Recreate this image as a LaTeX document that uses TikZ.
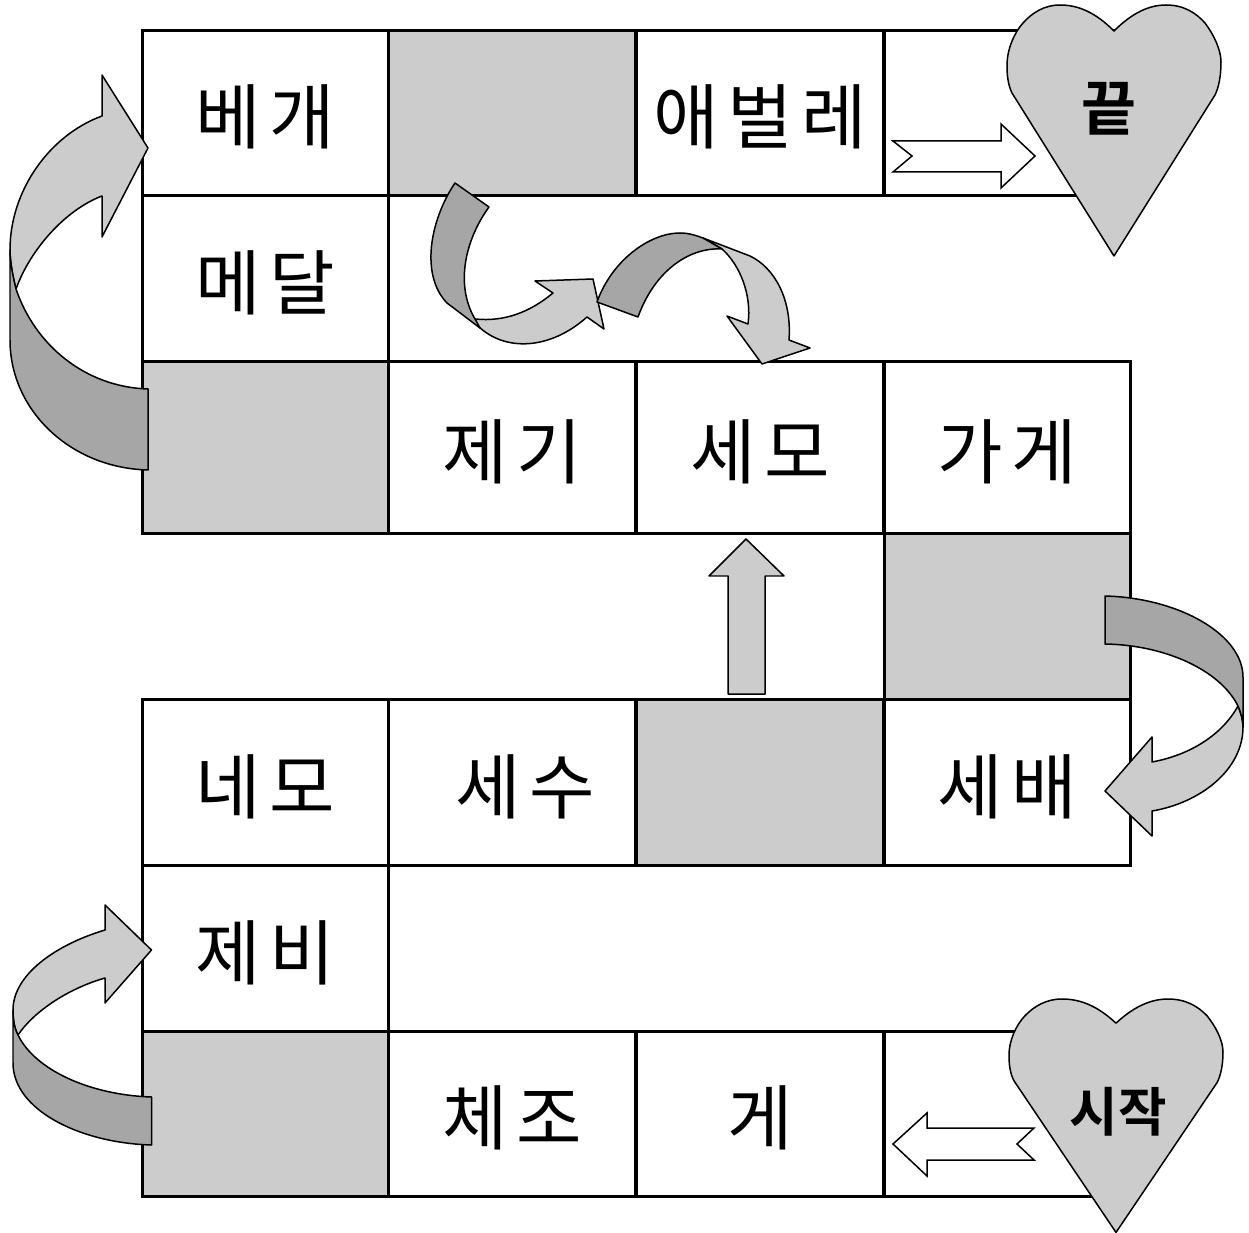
\documentclass[tikz,border=0pt]{standalone}
\usepackage{fontspec}
\setmainfont[LetterSpace=12]{Noto Sans CJK KR}
\newfontfamily\heartfont[BoldFont={Noto Sans CJK KR Bold}]{Noto Sans CJK KR}
\usetikzlibrary{positioning}

\definecolor{lightgrey}{gray}{0.8}
\definecolor{darkgrey}{gray}{0.65}

\tikzset{
  cell/.style = {draw, line width=0.06cm, minimum width=4.94cm, minimum height=3.32cm,
    inner sep=0pt, text height=1.6cm, text depth=0.36cm, font=\fontsize{40.5}{40.5}\selectfont},
  greycell/.style = {cell, fill=lightgrey},
  ribbonlight/.style = {draw, fill=lightgrey, line width=0.03cm, line join=round},
  ribbondark/.style = {draw, fill=darkgrey, line width=0.03cm, line join=round},
  hollowarrow/.style = {draw, fill=white, line width=0.03cm, line join=miter},
  pics/heartshape/.style = {code={
    \draw[ribbonlight] (0,26) .. controls (18,8) and (35,0) .. (52,0)
      .. controls (70,0) and (82,8) .. (91,18)
      .. controls (100,30) and (107,45) .. (107,57)
      .. controls (107,70) and (105,82) .. (101,90) -- (0,251) -- (-102,88)
      .. controls (-106,80) and (-107,70) .. (-107,60)
      .. controls (-107,45) and (-100,28) .. (-91,18)
      .. controls (-82,8) and (-70,0) .. (-54,0)
      .. controls (-35,0) and (-18,8) .. (0,26) -- cycle;
  }}
}

\begin{document}
\begin{tikzpicture}[x=0.02cm, y=-0.02cm]
    \useasboundingbox (0,0) rectangle (1249,1233);

    % top rows
    \node[cell, minimum width=4.92cm, minimum height=3.3cm] (bega) at (265.3,112.8) {베개};
    \node[greycell, minimum height=3.3cm] (gapa) at (512,112.8) {};
    \node[cell, minimum height=3.3cm] (aebeolle) at (760,112.8) {애벌레};
    \node[cell, minimum height=3.3cm] (goal) at (1007.5,112.8) {};
    \node[cell, minimum width=4.92cm] (medal) at (265.3,278.2) {메달};
    \node[greycell, minimum width=4.92cm, minimum height=3.44cm] (gapb) at (265.3,447.4) {};
    \node[cell, minimum height=3.44cm] (jegi) at (512,447.4) {제기};
    \node[cell, minimum height=3.44cm] (semoa) at (760,447.4) {세모};
    \node[cell, minimum height=3.44cm] (gage) at (1007.5,447.4) {가게};
    \node[greycell] (gapc) at (1007.5,616.2) {};

    % bottom rows
    \node[cell, minimum width=4.92cm] (nemo) at (265.3,782.3) {네모};
    \node[cell] (sesu) at (512,782.3) {\hspace*{0.52cm}세수};
    \node[greycell] (gapd) at (760,782.3) {};
    \node[cell] (sebae) at (1007.5,782.3) {세배};
    \node[cell, minimum width=4.92cm] (jebi) at (265.3,948.3) {제비};
    \node[greycell, minimum width=4.92cm, minimum height=3.3cm] (gape) at (265.3,1113.8) {};
    \node[cell, minimum height=3.3cm] (chejo) at (512,1113.8) {체조};
    \node[cell, minimum height=3.3cm] (ge) at (760,1113.8) {게};
    \node[cell, minimum height=3.3cm] (start) at (1007.5,1113.8) {};

    % left ribbon, top
    \draw[ribbonlight] (148,148) -- (102,75) -- (102,116) .. controls (50,135) and (10,190) .. (10,250)
      .. controls (10,262) and (13,277) .. (16,289) .. controls (30,250) and (65,210) .. (102,196)
      -- (102,237) -- cycle;
    \draw[ribbondark] (10,250) -- (10,340) .. controls (10,410) and (70,468) .. (148,470) -- (148,389)
      .. controls (85,387) and (35,345) .. (16,289) .. controls (13,277) and (10,262) .. (10,250) -- cycle;

    % left ribbon, bottom
    \draw[ribbonlight] (151.5,950) -- (105,905) -- (105,930) .. controls (55,945) and (13,975) .. (13,1010)
      .. controls (13,1018) and (14,1028) .. (18,1035) .. controls (35,1010) and (70,988) .. (105,978)
      -- (105,1003) -- cycle;
    \draw[ribbondark] (13,1010) -- (13,1063) .. controls (13,1110) and (80,1143) .. (151.5,1145) -- (151.5,1097)
      .. controls (90,1095) and (35,1070) .. (18,1035) .. controls (14,1028) and (13,1018) .. (13,1010) -- cycle;

    % right ribbon
    \draw[ribbonlight] (1105,791) -- (1152,737) -- (1152,762) .. controls (1190,755) and (1222,735) .. (1238,706)
      .. controls (1241,713) and (1243,720) .. (1243,727) .. controls (1243,770) and (1200,803) .. (1152,811)
      -- (1152,836) -- cycle;
    \draw[ribbondark] (1105,596) .. controls (1180,598) and (1243,635) .. (1243,677) -- (1243,727)
      .. controls (1243,720) and (1241,713) .. (1238,706) .. controls (1220,670) and (1165,645) .. (1105,644) -- cycle;

    % two ribbons in the middle
    \draw[ribbonlight] (475,319) .. controls (505,322) and (530,312) .. (553,293) -- (535,281) -- (593,279)
      -- (604,329) -- (587,317) .. controls (550,350) and (505,352) .. (478,326) -- cycle;
    \draw[ribbondark] (455,183) -- (489,207) .. controls (465,240) and (455,285) .. (475,319) -- (480,328)
      -- (447,303) .. controls (420,275) and (430,220) .. (455,183) -- cycle;
    \draw[ribbonlight] (703,238) -- (750,256) .. controls (775,268) and (792,300) .. (789,340) -- (810,348)
      -- (762,364) -- (727,316) -- (748,324) .. controls (752,295) and (740,265) .. (722,249) -- cycle;
    \draw[ribbondark] (597,302) .. controls (612,260) and (650,233) .. (680,233)
      .. controls (690,233) and (697,236) .. (703,238) -- (722,249)
      .. controls (690,247) and (655,270) .. (638,317) -- cycle;

    % straight arrows
    \draw[ribbonlight] (746,539) -- (784,576) -- (765,576) -- (765,694) -- (728,694) -- (728,576) -- (709,576) -- cycle;
    \draw[hollowarrow] (893,141) -- (912,156) -- (893,172) -- (1001,172) -- (1001,188) -- (1035,156)
      -- (1001,124) -- (1001,141) -- cycle;
    \draw[hollowarrow] (893,1144) -- (927,1113) -- (927,1128) -- (1034,1128) -- (1017,1144) -- (1034,1160)
      -- (927,1160) -- (927,1176) -- cycle;

    % hearts
    \pic at (1114,5) {heartshape};
    \pic[yscale=0.93] at (1116,999) {heartshape};
    \node[font=\heartfont\bfseries\fontsize{34}{34}\selectfont] (finish) at (1109,109) {끝};
    \node[font=\heartfont\bfseries\fontsize{30}{30}\selectfont] (begin) at (1118,1112) {시작};
\end{tikzpicture}
\end{document}
